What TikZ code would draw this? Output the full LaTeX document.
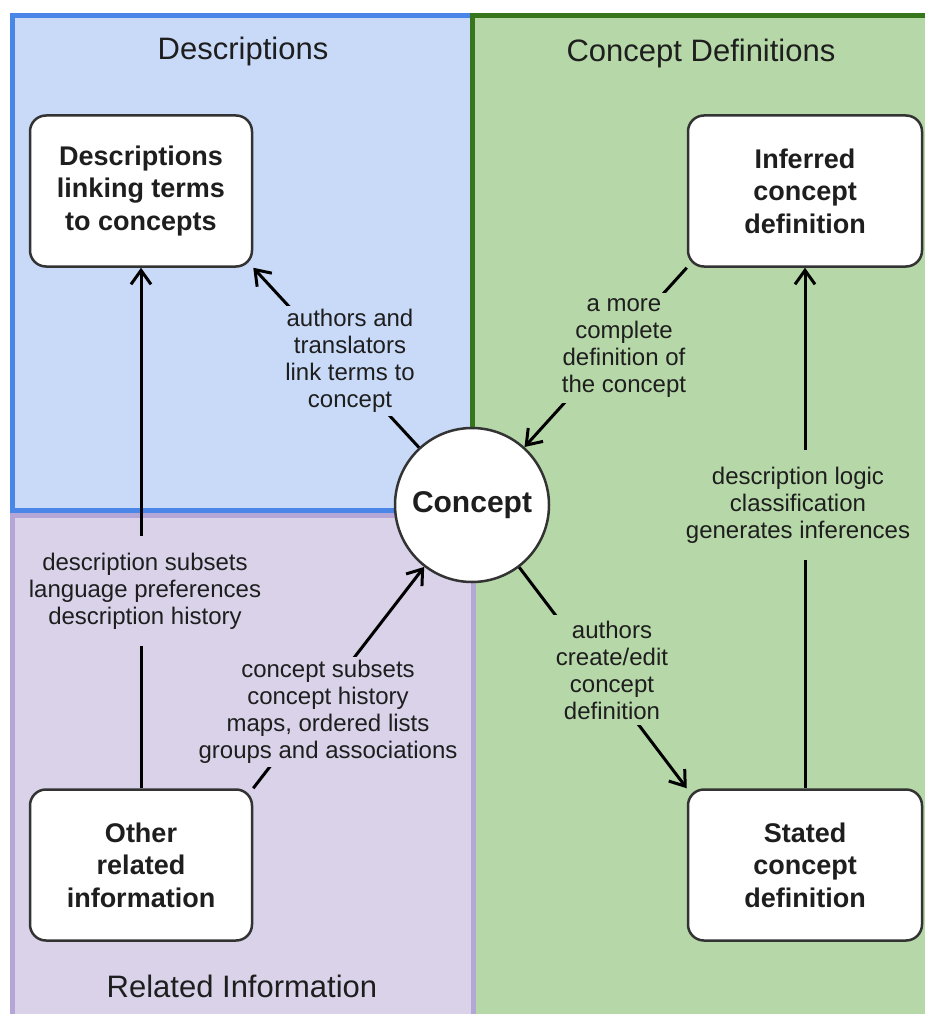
\documentclass[tikz,border=0pt]{standalone}
\usepackage{fontspec}
\setmainfont{Liberation Sans}
\usetikzlibrary{arrows.meta}
\definecolor{bluebg}{HTML}{C9DAF8}
\definecolor{blueln}{HTML}{4A86E8}
\definecolor{greenbg}{HTML}{B6D7A8}
\definecolor{greenln}{HTML}{38761D}
\definecolor{purplebg}{HTML}{D9D2E9}
\definecolor{purpleln}{HTML}{B4A7D6}
\definecolor{boxln}{HTML}{333333}
\definecolor{txt}{HTML}{1E1E1E}
\begin{document}
\begin{tikzpicture}[x=1pt,y=-1pt,
  region/.style={line width=5pt},
  regtitle/.style={font=\fontsize{31}{36}\selectfont, text=txt},
  box/.style={draw=boxln, fill=white, line width=2.5pt, rounded corners=16pt,
    minimum height=151pt, align=center,
    font=\fontsize{27}{32.5}\selectfont\bfseries, text=txt, inner sep=0pt},
  concept/.style={circle, draw=boxln, fill=white, line width=2.5pt,
    minimum size=154pt, inner sep=0pt,
    font=\fontsize{30}{36}\selectfont\bfseries, text=txt},
  conn/.style={draw=black, line width=3pt, -{Straight Barb[length=14pt,width=20pt]}},
  lbl/.style={align=center, font=\fontsize{24}{27}\selectfont, text=txt,
    inner xsep=4pt, inner ysep=2pt, minimum height=110pt}
]
\useasboundingbox (0,0) rectangle (925,1014);
\clip (0,0) rectangle (925,1014);
% regions
\draw[region, draw=blueln, fill=bluebg] (12.5,16) rectangle (472,510);
\draw[region, draw=greenln, fill=greenbg] (472,16) rectangle (945,1035);
\draw[region, draw=purpleln, fill=purplebg] (12.5,515) rectangle (473,1035);
% titles
\node[regtitle] (t1) at (243,51) {Descriptions};
\node[regtitle] (t2) at (701,53) {Concept Definitions};
\node[regtitle] (t3) at (242,986) {Related Information};
% boxes
\node[box, minimum width=222pt] (desc) at (141,191) {Descriptions\\linking terms\\to concepts};
\node[box, minimum width=234pt] (inf) at (805,191) {Inferred\\concept\\definition};
\node[box, minimum width=222pt] (other) at (141,865) {Other\\related\\information};
\node[box, minimum width=234pt] (stated) at (805,865) {Stated\\concept\\definition};
\node[concept] (concept) at (472,505) {Concept};
% connectors
\draw[conn] (other.north) -- (desc.south);
\draw[conn] (stated.north) -- (inf.south);
\draw[conn] (concept) -- (desc.south east);
\draw[conn] (inf.south west) -- (concept);
\draw[conn] (concept) -- (stated.north west);
\draw[conn] (other.north east) -- (concept);
% labels
\node[lbl, fill=purplebg] (l1) at (145,591) {description subsets\\language preferences\\description history};
\node[lbl, fill=bluebg] (l2) at (350,361) {authors and\\translators\\link terms to\\concept};
\node[lbl, fill=greenbg] (l3) at (624,348) {a more\\complete\\definition of\\the concept};
\node[lbl, fill=greenbg] (l4) at (798,505) {description logic\\classification\\generates inferences};
\node[lbl, fill=greenbg] (l5) at (612,670) {authors\\create/edit\\concept\\definition};
\node[lbl, fill=purplebg] (l6) at (328,712) {concept subsets\\concept history\\maps, ordered lists\\groups and associations};
\end{tikzpicture}
\end{document}
